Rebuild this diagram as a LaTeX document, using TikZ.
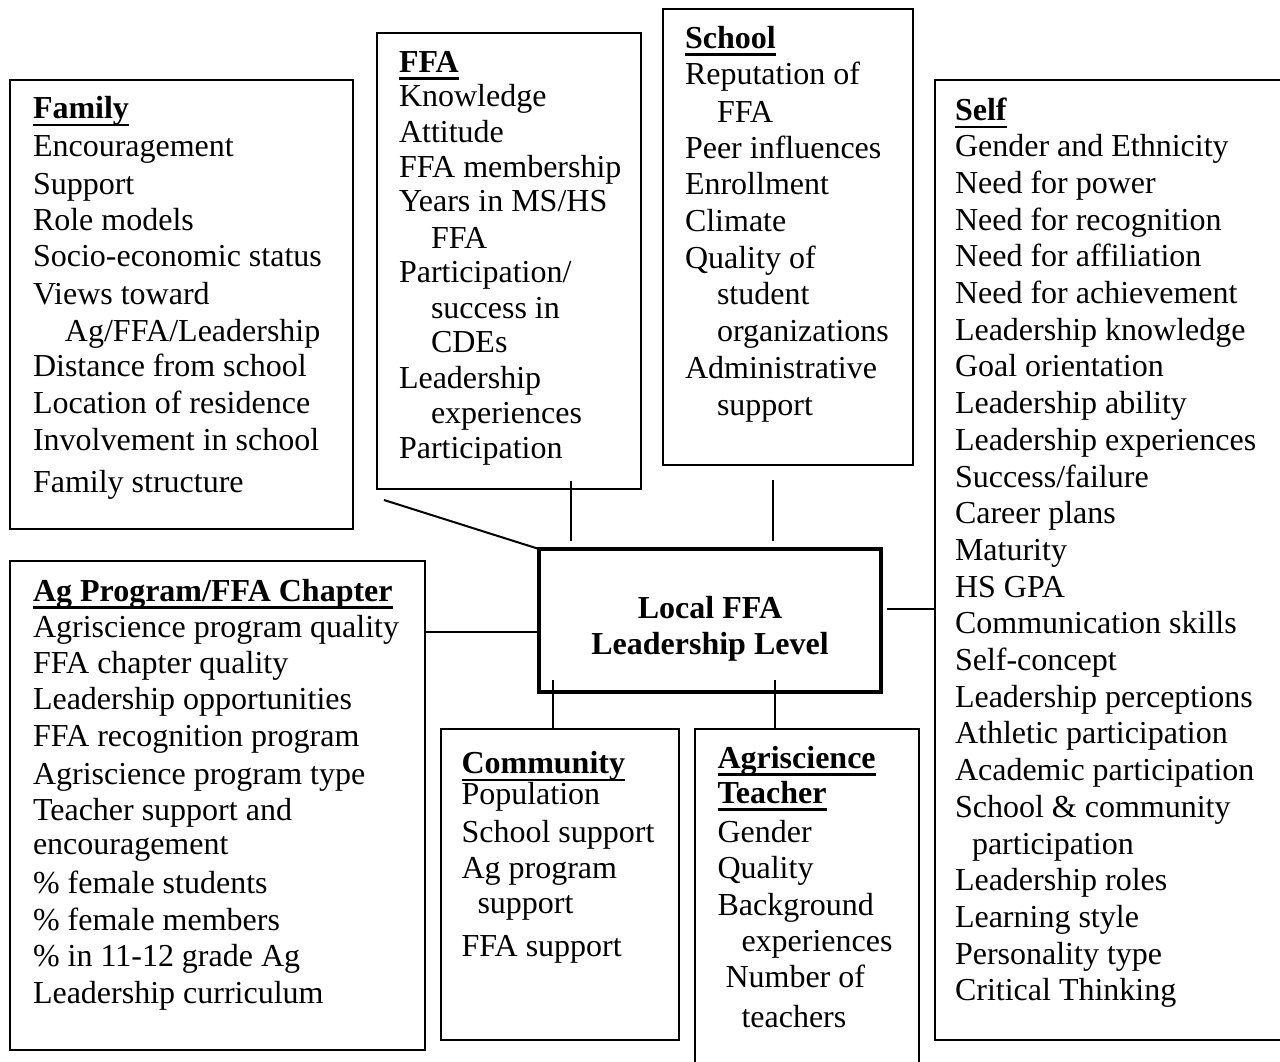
\documentclass[tikz,border=0pt]{standalone}
\usepackage{fontspec}
\setmainfont{Liberation Serif}
\newcommand\uhead[1]{\setbox0=\hbox{\bfseries #1}\rlap{\rule[-7.5pt]{\wd0}{2.5pt}}\box0}
\newcommand\lstart{\baselineskip=0pt\lineskip=0pt\lineskiplimit=-\maxdimen}
\newcommand\gl[2]{\vskip#1\hbox{#2}}
\newcommand\ind[1]{\hskip#1\relax}
\newcommand\ctr[1]{\hbox to 0pt{\hss#1\hss}}
\tikzset{
  box/.style={draw=black, line width=2pt, outer sep=0pt, inner sep=0pt, anchor=north west},
  mainbox/.style={draw=black, line width=4pt, outer sep=0pt, inner sep=0pt, anchor=north west},
  txt/.style={inner sep=0pt, outer sep=0pt, anchor=base west, font=\fontsize{32}{36.7}\selectfont},
  conn/.style={draw=black, line width=2pt}
}
\begin{document}
\begin{tikzpicture}[x=1pt,y=-1pt]
\path[fill=white, use as bounding box] (0,0) rectangle (1280,1061);

% boxes
\node[box, minimum width=343pt, minimum height=449pt] (family) at (10,80) {};
\node[box, minimum width=264pt, minimum height=456pt] (ffa) at (377,33) {};
\node[box, minimum width=250pt, minimum height=456pt] (school) at (663,9) {};
\node[box, minimum width=365pt, minimum height=960pt] (self) at (935,80) {};
\node[mainbox, minimum width=342pt, minimum height=143pt] (center) at (539,549) {};
\node[box, minimum width=415pt, minimum height=489pt] (agprog) at (10,561) {};
\node[box, minimum width=238pt, minimum height=311pt] (community) at (441,729) {};
\node[box, minimum width=224pt, minimum height=360pt] (teacher) at (695,729) {};

% texts
\node[txt] (familytext) at (33,118.8) {\vtop{\lstart
\hbox{\uhead{Family}}
\gl{37.9pt}{Encouragement}
\gl{37.9pt}{Support}
\gl{35.4pt}{Role models}
\gl{36.9pt}{Socio-economic status}
\gl{37.9pt}{Views toward}
\gl{36.2pt}{\ind{32pt}Ag/FFA/Leadership}
\gl{35pt}{Distance from school}
\gl{37pt}{Location of residence}
\gl{37pt}{Involvement in school}
\gl{42.4pt}{Family structure}}};

\node[txt] (ffatext) at (399,72.3) {\vtop{\lstart
\hbox{\uhead{FFA}}
\gl{33.7pt}{Knowledge}
\gl{36pt}{Attitude}
\gl{35.3pt}{FFA membership}
\gl{34.5pt}{Years in MS/HS}
\gl{36.2pt}{\ind{32pt}FFA}
\gl{34pt}{Participation/}
\gl{36.5pt}{\ind{32pt}success in}
\gl{33.5pt}{\ind{32pt}CDEs}
\gl{36pt}{Leadership}
\gl{35.5pt}{\ind{32pt}experiences}
\gl{34.5pt}{Participation}}};

\node[txt] (schooltext) at (685,48.2) {\vtop{\lstart
\hbox{\uhead{School}}
\gl{36.2pt}{Reputation of}
\gl{37.6pt}{\ind{32pt}FFA}
\gl{36.4pt}{Peer influences}
\gl{36.2pt}{Enrollment}
\gl{36.8pt}{Climate}
\gl{36.6pt}{Quality of}
\gl{36.8pt}{\ind{32pt}student}
\gl{36.2pt}{\ind{32pt}organizations}
\gl{37pt}{Administrative}
\gl{37pt}{\ind{32pt}support}}};

\node[txt] (selftext) at (955,120.5) {\vtop{\lstart
\hbox{\uhead{Self}}
\gl{36.2pt}{Gender and Ethnicity}
\gl{36.7pt}{Need for power}
\gl{36.7pt}{Need for recognition}
\gl{36.7pt}{Need for affiliation}
\gl{36.7pt}{Need for achievement}
\gl{36.7pt}{Leadership knowledge}
\gl{36.7pt}{Goal orientation}
\gl{36.7pt}{Leadership ability}
\gl{36.7pt}{Leadership experiences}
\gl{36.7pt}{Success/failure}
\gl{36.7pt}{Career plans}
\gl{36.7pt}{Maturity}
\gl{36.7pt}{HS GPA}
\gl{36.7pt}{Communication skills}
\gl{36.7pt}{Self-concept}
\gl{36.7pt}{Leadership perceptions}
\gl{36.7pt}{Athletic participation}
\gl{36.7pt}{Academic participation}
\gl{36.7pt}{School \& community}
\gl{36.7pt}{\ind{17pt}participation}
\gl{36.7pt}{Leadership roles}
\gl{36.7pt}{Learning style}
\gl{36.7pt}{Personality type}
\gl{36.7pt}{Critical Thinking}}};

\node[txt] (agtext) at (33,601) {\vtop{\lstart
\hbox{\uhead{Ag Program/FFA Chapter}}
\gl{36.3pt}{Agriscience program quality}
\gl{36.3pt}{FFA chapter quality}
\gl{36.2pt}{Leadership opportunities}
\gl{36.2pt}{FFA recognition program}
\gl{38pt}{Agriscience program type}
\gl{36pt}{Teacher support and}
\gl{34.7pt}{encouragement}
\gl{39pt}{\% female students}
\gl{36.9pt}{\% female members}
\gl{36.3pt}{\% in 11-12 grade Ag}
\gl{36.1pt}{Leadership curriculum}}};

\node[txt] (communitytext) at (461.5,773.6) {\vtop{\lstart
\hbox{\uhead{Community}}
\gl{31.1pt}{Population}
\gl{37.9pt}{School support}
\gl{36.3pt}{Ag program}
\gl{34.5pt}{\ind{16pt}support}
\gl{43.1pt}{FFA support}}};

\node[txt] (teachertext) at (717.5,768.4) {\vtop{\lstart
\hbox{\uhead{Agriscience}}
\gl{34.6pt}{\uhead{Teacher}}
\gl{39.6pt}{Gender}
\gl{36.3pt}{Quality}
\gl{36.1pt}{Background}
\gl{36pt}{\ind{24pt}experiences}
\gl{36.6pt}{\ind{8pt}Number of}
\gl{39.4pt}{\ind{24pt}teachers}}};

\node[inner sep=0pt, outer sep=0pt, anchor=base, font=\fontsize{32}{36.6}\selectfont\bfseries] (centertext) at (710,618) {\vtop{\lstart
\ctr{Local FFA}
\vskip36.6pt\ctr{Leadership Level}}};

% connector positions
\coordinate (famc) at (384,500);
\coordinate (xffa) at (571,0);
\coordinate (xsch) at (773,0);
\coordinate (yself) at (0,609);
\coordinate (yag) at (0,632);
\coordinate (xcom) at (553,0);
\coordinate (xtea) at (775,0);

% connectors
\draw[conn] (famc) -- (center.north west);
\draw[conn, shorten <=-8pt, shorten >=8pt] (ffa.south -| xffa) -- (center.north -| xffa);
\draw[conn, shorten <=15pt, shorten >=8pt] (school.south -| xsch) -- (center.north -| xsch);
\draw[conn, shorten >=6pt] (self.west |- yself) -- (center.east |- yself);
\draw[conn] (agprog.east |- yag) -- (center.west |- yag);
\draw[conn, shorten >=-12pt] (community.north -| xcom) -- (center.south -| xcom);
\draw[conn, shorten >=-12pt] (teacher.north -| xtea) -- (center.south -| xtea);
\end{tikzpicture}
\end{document}
